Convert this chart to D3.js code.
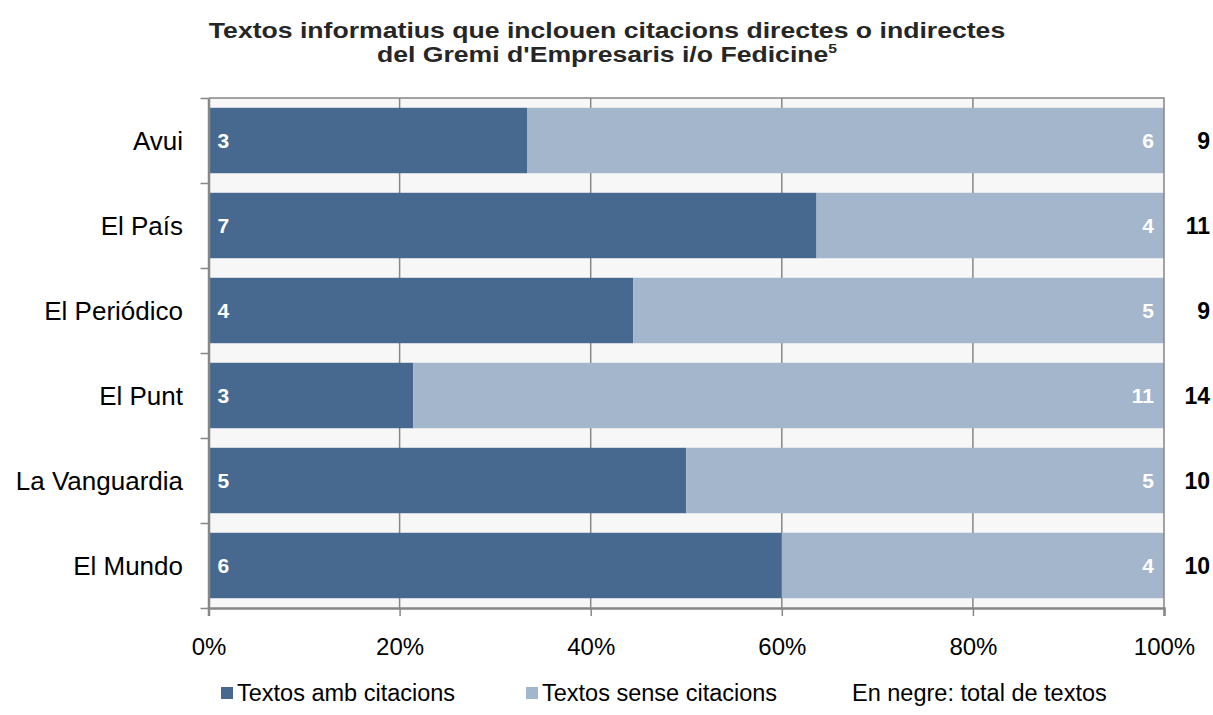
<!DOCTYPE html>
<html>
<head>
<meta charset="utf-8">
<script src="https://cdn.jsdelivr.net/npm/d3@7"></script>
<style>
  body { margin: 0; background: #fff; }
  svg { font-family: "Liberation Sans", Arial, sans-serif; }
</style>
</head>
<body>
<svg id="chart" width="1213" height="715"></svg>
<script>
// data
var papers = ["Avui", "El País", "El Periódico", "El Punt", "La Vanguardia", "El Mundo"],
    withQuotes = [3, 7, 4, 3, 5, 6],
    withoutQuotes = [6, 4, 5, 11, 5, 4],
    totals = [9, 11, 9, 14, 10, 10],
    xTicks = [0, 0.2, 0.4, 0.6, 0.8, 1];

var dark = "#476990", light = "#a4b6cb", gridColor = "#878787";

var margin = {top: 98, left: 208.5, right: 1164, bottom: 608};

var svg = d3.select("#chart");

var x = d3.scaleLinear().domain([0, 1]).range([margin.left, margin.right]);
var y = d3.scaleBand().domain(papers).range([margin.top, margin.bottom])
    .paddingInner(0.23).paddingOuter(0.115);
var yEdge = d3.scaleLinear().domain([0, papers.length]).range([margin.top, margin.bottom]);

// plot background
svg.append("rect")
  .attr("x", x(0)).attr("y", margin.top)
  .attr("width", x(1) - x(0)).attr("height", margin.bottom - margin.top)
  .attr("fill", "#f7f7f7");

// gridlines
svg.append("g").selectAll("line")
  .data(xTicks.slice(1, -1))
  .enter().append("line")
    .attr("x1", function(d) { return x(d); }).attr("x2", function(d) { return x(d); })
    .attr("y1", margin.top).attr("y2", margin.bottom)
    .attr("stroke", gridColor).attr("stroke-width", 1.5);

var data = papers.map(function(p, i) {
  return {label: p, a: withQuotes[i], b: withoutQuotes[i], total: totals[i]};
});

// bars
var rows = svg.append("g").selectAll("g")
  .data(data)
  .enter().append("g");

rows.append("rect")
  .attr("x", x(0))
  .attr("y", function(d) { return y(d.label); })
  .attr("width", function(d) { return x(d.a / d.total) - x(0); })
  .attr("height", y.bandwidth())
  .attr("fill", dark);

rows.append("rect")
  .attr("x", function(d) { return x(d.a / d.total); })
  .attr("y", function(d) { return y(d.label); })
  .attr("width", function(d) { return x(1) - x(d.a / d.total); })
  .attr("height", y.bandwidth())
  .attr("fill", light);

// value labels
rows.append("text")
  .attr("x", x(0) + 9)
  .attr("y", function(d) { return y(d.label) + y.bandwidth() / 2; })
  .attr("dy", "0.36em")
  .attr("fill", "#fff").attr("font-weight", "bold").attr("font-size", 21)
  .text(function(d) { return d.a; });

rows.append("text")
  .attr("x", x(1) - 10)
  .attr("y", function(d) { return y(d.label) + y.bandwidth() / 2; })
  .attr("dy", "0.36em")
  .attr("text-anchor", "end")
  .attr("fill", "#fff").attr("font-weight", "bold").attr("font-size", 21)
  .text(function(d) { return d.b; });

rows.append("text")
  .attr("x", 1210)
  .attr("y", function(d) { return y(d.label) + y.bandwidth() / 2; })
  .attr("dy", "0.36em")
  .attr("text-anchor", "end")
  .attr("fill", "#000").attr("font-weight", "bold").attr("font-size", 23)
  .text(function(d) { return d.total; });

// frame top / right
svg.append("path")
  .attr("d", "M" + x(0) + "," + margin.top + "H" + x(1) + "V" + margin.bottom)
  .attr("fill", "none").attr("stroke", gridColor).attr("stroke-width", 1.5);

// x axis
var xAxis = svg.append("g")
  .attr("transform", "translate(0," + margin.bottom + ")")
  .call(d3.axisBottom(x).tickValues(xTicks).tickSize(8).tickPadding(22)
    .tickFormat(d3.format(".0%")));
xAxis.select(".domain").attr("stroke", gridColor).attr("stroke-width", 2.5);
xAxis.selectAll(".tick line").attr("stroke", gridColor).attr("stroke-width", 1.5);
xAxis.selectAll("text").attr("font-size", 24).attr("fill", "#000")
  .attr("font-family", "Liberation Sans, Arial, sans-serif");

// y axis (ticks at band edges)
var yAxis = svg.append("g")
  .attr("transform", "translate(" + x(0) + ",0)")
  .call(d3.axisLeft(yEdge).ticks(papers.length).tickSize(8).tickSizeOuter(0).tickFormat(""));
yAxis.select(".domain").attr("stroke", gridColor).attr("stroke-width", 2.5);
yAxis.selectAll(".tick line").attr("stroke", gridColor).attr("stroke-width", 1.5);

// category labels
svg.append("g").selectAll("text")
  .data(papers)
  .enter().append("text")
    .attr("x", 183)
    .attr("y", function(d) { return y(d) + y.bandwidth() / 2; })
    .attr("dy", "0.36em")
    .attr("text-anchor", "end")
    .attr("font-size", 26)
    .text(function(d) { return d; });

// title (horizontally stretched like the original)
var titleG = svg.append("g").attr("transform", "translate(607,0) scale(1.21,1)");
titleG.append("text")
  .attr("text-anchor", "middle").attr("x", 0).attr("y", 38)
  .attr("font-weight", "bold").attr("font-size", 22).attr("fill", "#262626")
  .text("Textos informatius que inclouen citacions directes o indirectes");
var t2 = titleG.append("text")
  .attr("text-anchor", "middle").attr("x", 0).attr("y", 62)
  .attr("font-weight", "bold").attr("font-size", 22).attr("fill", "#262626");
t2.append("tspan").text("del Gremi d'Empresaris i/o Fedicine");
t2.append("tspan").attr("dy", -9).attr("font-size", 13).text("5");

// legend
var legendItems = [
  {label: "Textos amb citacions", color: dark, x: 221},
  {label: "Textos sense citacions", color: light, x: 526},
  {label: "En negre: total de textos", color: null, x: 852}
];
var legend = svg.append("g").selectAll("g")
  .data(legendItems)
  .enter().append("g");
legend.filter(function(d) { return d.color; }).append("rect")
  .attr("x", function(d) { return d.x; }).attr("y", 687)
  .attr("width", 12).attr("height", 12)
  .attr("fill", function(d) { return d.color; });
legend.append("text")
  .attr("x", function(d) { return d.color ? d.x + 16 : d.x; })
  .attr("y", 701)
  .attr("font-size", 23.5)
  .text(function(d) { return d.label; });
</script>
</body>
</html>
